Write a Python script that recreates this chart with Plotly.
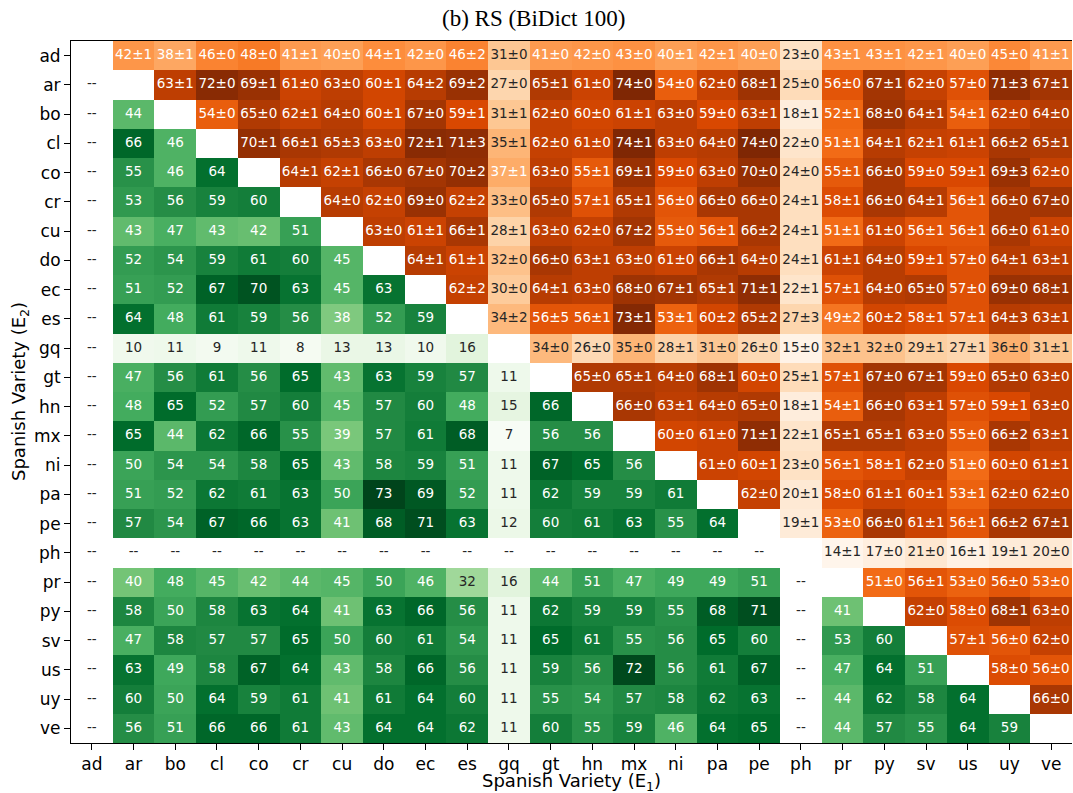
import plotly.graph_objects as go

varieties = ["ad", "ar", "bo", "cl", "co", "cr", "cu", "do", "ec", "es", "gq", "gt",
             "hn", "mx", "ni", "pa", "pe", "ph", "pr", "py", "sv", "us", "uy", "ve"]

# Upper triangle (row E2, columns to the right of the diagonal): mean and std
upper_mean = [
    [42, 38, 46, 48, 41, 40, 44, 42, 46, 31, 41, 42, 43, 40, 42, 40, 23, 43, 43, 42, 40, 45, 41],
    [63, 72, 69, 61, 63, 60, 64, 69, 27, 65, 61, 74, 54, 62, 68, 25, 56, 67, 62, 57, 71, 67],
    [54, 65, 62, 64, 60, 67, 59, 31, 62, 60, 61, 63, 59, 63, 18, 52, 68, 64, 54, 62, 64],
    [70, 66, 65, 63, 72, 71, 35, 62, 61, 74, 63, 64, 74, 22, 51, 64, 62, 61, 66, 65],
    [64, 62, 66, 67, 70, 37, 63, 55, 69, 59, 63, 70, 24, 55, 66, 59, 59, 69, 62],
    [64, 62, 69, 62, 33, 65, 57, 65, 56, 66, 66, 24, 58, 66, 64, 56, 66, 67],
    [63, 61, 66, 28, 63, 62, 67, 55, 56, 66, 24, 51, 61, 56, 56, 66, 61],
    [64, 61, 32, 66, 63, 63, 61, 66, 64, 24, 61, 64, 59, 57, 64, 63],
    [62, 30, 64, 63, 68, 67, 65, 71, 22, 57, 64, 65, 57, 69, 68],
    [34, 56, 56, 73, 53, 60, 65, 27, 49, 60, 58, 57, 64, 63],
    [34, 26, 35, 28, 31, 26, 15, 32, 32, 29, 27, 36, 31],
    [65, 65, 64, 68, 60, 25, 57, 67, 67, 59, 65, 63],
    [66, 63, 64, 65, 18, 54, 66, 63, 57, 59, 63],
    [60, 61, 71, 22, 65, 65, 63, 55, 66, 63],
    [61, 60, 23, 56, 58, 62, 51, 60, 61],
    [62, 20, 58, 61, 60, 53, 62, 62],
    [19, 53, 66, 61, 56, 66, 67],
    [14, 17, 21, 16, 19, 20],
    [51, 56, 53, 56, 53],
    [62, 58, 68, 63],
    [57, 56, 62],
    [58, 56],
    [66],
    [],
]
upper_std = [
    [1, 1, 0, 0, 1, 0, 1, 0, 2, 0, 0, 0, 0, 1, 1, 0, 0, 1, 1, 1, 0, 0, 1],
    [1, 0, 1, 0, 0, 1, 2, 2, 0, 1, 0, 0, 0, 0, 1, 0, 0, 1, 0, 0, 3, 1],
    [0, 0, 1, 0, 1, 0, 1, 1, 0, 0, 1, 0, 0, 1, 1, 1, 0, 1, 1, 0, 0],
    [1, 1, 3, 0, 1, 3, 1, 0, 0, 1, 0, 0, 0, 0, 1, 1, 1, 1, 2, 1],
    [1, 1, 0, 0, 2, 1, 0, 1, 1, 0, 0, 0, 0, 1, 0, 0, 1, 3, 0],
    [0, 0, 0, 2, 0, 0, 1, 1, 0, 0, 0, 1, 1, 0, 1, 1, 0, 0],
    [0, 1, 1, 1, 0, 0, 2, 0, 1, 2, 1, 1, 0, 1, 1, 0, 0],
    [1, 1, 0, 0, 1, 0, 0, 1, 0, 1, 1, 0, 1, 0, 1, 1],
    [2, 0, 1, 0, 0, 1, 1, 1, 1, 1, 0, 0, 0, 0, 1],
    [2, 5, 1, 1, 1, 2, 2, 3, 2, 2, 1, 1, 3, 1],
    [0, 0, 0, 1, 0, 0, 0, 1, 0, 1, 1, 0, 1],
    [0, 1, 0, 1, 0, 1, 1, 0, 1, 0, 0, 0],
    [0, 1, 0, 0, 1, 1, 0, 1, 0, 1, 0],
    [0, 0, 1, 1, 1, 1, 0, 0, 2, 1],
    [0, 1, 0, 1, 1, 0, 0, 0, 1],
    [0, 1, 0, 1, 1, 1, 0, 0],
    [1, 0, 0, 1, 1, 2, 1],
    [1, 0, 0, 1, 1, 0],
    [0, 1, 0, 0, 0],
    [0, 0, 1, 0],
    [1, 0, 0],
    [0, 0],
    [0],
    [],
]

# Lower triangle (columns to the left of the diagonal); None = not available
lower = [
    [],
    [None],
    [None, 44],
    [None, 66, 46],
    [None, 55, 46, 64],
    [None, 53, 56, 59, 60],
    [None, 43, 47, 43, 42, 51],
    [None, 52, 54, 59, 61, 60, 45],
    [None, 51, 52, 67, 70, 63, 45, 63],
    [None, 64, 48, 61, 59, 56, 38, 52, 59],
    [None, 10, 11, 9, 11, 8, 13, 13, 10, 16],
    [None, 47, 56, 61, 56, 65, 43, 63, 59, 57, 11],
    [None, 48, 65, 52, 57, 60, 45, 57, 60, 48, 15, 66],
    [None, 65, 44, 62, 66, 55, 39, 57, 61, 68, 7, 56, 56],
    [None, 50, 54, 54, 58, 65, 43, 58, 59, 51, 11, 67, 65, 56],
    [None, 51, 52, 62, 61, 63, 50, 73, 69, 52, 11, 62, 59, 59, 61],
    [None, 57, 54, 67, 66, 63, 41, 68, 71, 63, 12, 60, 61, 63, 55, 64],
    [None] * 17,
    [None, 40, 48, 45, 42, 44, 45, 50, 46, 32, 16, 44, 51, 47, 49, 49, 51, None],
    [None, 58, 50, 58, 63, 64, 41, 63, 66, 56, 11, 62, 59, 59, 55, 68, 71, None, 41],
    [None, 47, 58, 57, 57, 65, 50, 60, 61, 54, 11, 65, 61, 55, 56, 65, 60, None, 53, 60],
    [None, 63, 49, 58, 67, 64, 43, 58, 66, 56, 11, 59, 56, 72, 56, 61, 67, None, 47, 64, 51],
    [None, 60, 50, 64, 59, 61, 41, 61, 64, 60, 11, 55, 54, 57, 58, 62, 63, None, 44, 62, 58, 64],
    [None, 56, 51, 66, 66, 61, 43, 64, 64, 62, 11, 60, 55, 59, 46, 64, 65, None, 44, 57, 55, 64, 59],
]

greens = ["#f7fcf5", "#e5f5e0", "#c7e9c0", "#a1d99b", "#74c476",
          "#41ab5d", "#238b45", "#006d2c", "#00441b"]
oranges = ["#fff5eb", "#fee6ce", "#fdd0a2", "#fdae6b", "#fd8d3c",
           "#f16913", "#d94801", "#a63603", "#7f2704"]


def scale(cols):
    n = len(cols) - 1
    return [[k / n, c] for k, c in enumerate(cols)]


n = len(varieties)
z_up = [[None] * n for _ in range(n)]
z_lo = [[None] * n for _ in range(n)]
for i in range(n):
    for k, m in enumerate(upper_mean[i]):
        z_up[i][i + 1 + k] = m
    for j, v in enumerate(lower[i]):
        z_lo[i][j] = v

up_vals = [v for r in upper_mean for v in r]
lo_vals = [v for r in lower for v in r if v is not None]
up_min, up_max = min(up_vals), max(up_vals)
lo_min, lo_max = min(lo_vals), max(lo_vals)

dark = "#262626"
tx, ty, tt, tc = [], [], [], []
for i in range(n):
    for k, (m, s) in enumerate(zip(upper_mean[i], upper_std[i])):
        tx.append(i + 1 + k); ty.append(i)
        tt.append(f"{m}\u00b1{s}")
        tc.append("white" if m >= up_max / 2 else dark)
    for j, v in enumerate(lower[i]):
        tx.append(j); ty.append(i)
        if v is None:
            tt.append("--"); tc.append(dark)
        else:
            tt.append(str(v))
            tc.append("white" if v >= lo_max / 2 else dark)

fig = go.Figure()
fig.add_trace(go.Heatmap(z=z_lo, x=list(range(n)), y=list(range(n)),
                         colorscale=scale(greens), zmin=lo_min, zmax=lo_max,
                         showscale=False, hoverinfo="skip"))
fig.add_trace(go.Heatmap(z=z_up, x=list(range(n)), y=list(range(n)),
                         colorscale=scale(oranges), zmin=up_min, zmax=up_max,
                         showscale=False, hoverinfo="skip"))
fig.add_trace(go.Scatter(x=tx, y=ty, text=tt, mode="text",
                         textfont=dict(family="DejaVu Sans", size=13.5, color=tc),
                         hoverinfo="skip", showlegend=False))

axis_common = dict(tickvals=list(range(n)), ticktext=varieties, ticks="outside",
                   ticklen=6, tickwidth=1, tickcolor="black", showline=True,
                   linecolor="black", linewidth=1, showgrid=False, zeroline=False,
                   tickfont=dict(family="DejaVu Sans", size=17, color="black"))

fig.update_layout(
    width=1073, height=793,
    margin=dict(l=71, r=1, t=41, b=50),
    paper_bgcolor="white", plot_bgcolor="white",
    showlegend=False,
    xaxis=dict(range=[-0.5, n - 0.5], mirror=True, **axis_common),
    yaxis=dict(range=[n - 0.5, -0.5], mirror=False, **axis_common),
    annotations=[
        dict(text="(b) RS (BiDict 100)", xref="paper", yref="paper",
             x=(533 - 71) / 1001, y=1 + (41 - 18) / 702, xanchor="center", yanchor="middle",
             showarrow=False, font=dict(family="Liberation Serif", size=23, color="black")),
        dict(text="Spanish Variety (E<sub>1</sub>)", xref="paper", yref="paper",
             x=0.5, y=-(782 - 743) / 702, xanchor="center", yanchor="middle",
             showarrow=False, font=dict(family="DejaVu Sans", size=18, color="black")),
        dict(text="Spanish Variety (E<sub>2</sub>)", xref="paper", yref="paper",
             x=-(71 - 20) / 1001, y=0.5, xanchor="center", yanchor="middle", textangle=-90,
             showarrow=False, font=dict(family="DejaVu Sans", size=18, color="black")),
    ],
)

fig.write_html("out.html")
